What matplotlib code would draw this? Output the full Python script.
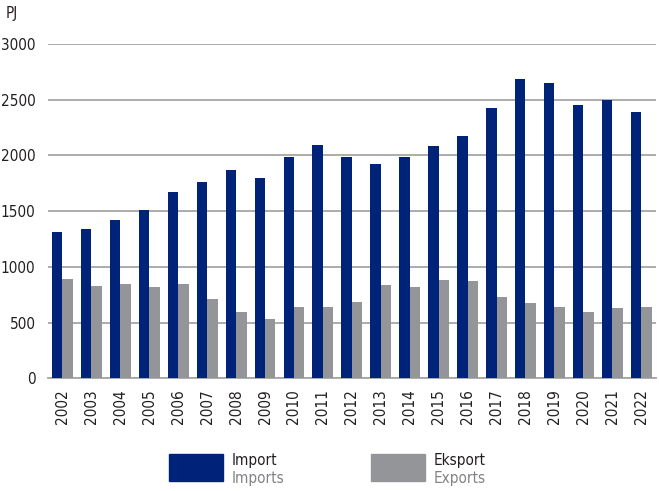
import numpy as np
import matplotlib.pyplot as plt
from matplotlib.patches import Rectangle

years = [str(y) for y in range(2002, 2023)]
imports = [1314, 1341, 1422, 1512, 1673, 1763, 1871, 1799, 1988, 2095, 1988,
           1925, 1988, 2086, 2176, 2427, 2688, 2652, 2454, 2499, 2391]
exports = [892, 829, 847, 820, 847, 712, 596, 533, 640, 640, 685,
           838, 820, 883, 874, 730, 676, 640, 596, 631, 640]

navy = '#00237a'
grey = '#939598'

plt.rcParams['font.family'] = ['DejaVu Sans']
plt.rcParams['font.stretch'] = 'condensed'

fig = plt.figure(figsize=(6.59, 4.91), dpi=100)
ax = fig.add_axes([0.0728, 0.2295, 0.9222, 0.6809])

x = np.arange(len(years))
w = 0.36
ax.bar(x - w / 2, imports, w, color=navy, zorder=3)
ax.bar(x + w / 2, exports, w, color=grey, zorder=3)

ax.set_xlim(-0.5, 20.5)
ax.set_ylim(0, 3000)
ax.set_yticks(range(0, 3001, 500))
ax.yaxis.grid(True, color='#a6a6a6', linewidth=1.3, zorder=0)
ax.set_xticks(x)
ax.set_xticklabels(years, rotation=90, fontsize=11, color='#231f20')
ax.tick_params(axis='y', labelsize=11, labelcolor='#231f20', length=0, pad=9)
ax.tick_params(axis='x', length=0, pad=8)
for s in ['top', 'right', 'left']:
    ax.spines[s].set_visible(False)
ax.spines['bottom'].set_color('#a6a6a6')
ax.spines['bottom'].set_linewidth(1.3)

fig.text(0.008, 0.972, 'PJ', fontsize=11, color='#231f20', va='center')

# legend
def legend_item(x0, color, top, bottom):
    fig.patches.append(Rectangle((x0 / 659, 1 - 481 / 491), 54 / 659, 27 / 491,
                                 transform=fig.transFigure, color=color))
    fig.text((x0 + 63) / 659, 1 - 461 / 491, top, fontsize=11, color='#231f20', va='center')
    fig.text((x0 + 63) / 659, 1 - 479 / 491, bottom, fontsize=11, color='#808285', va='center')

legend_item(169, navy, 'Import', 'Imports')
legend_item(371, grey, 'Eksport', 'Exports')

fig.savefig('out.png', dpi=100)
